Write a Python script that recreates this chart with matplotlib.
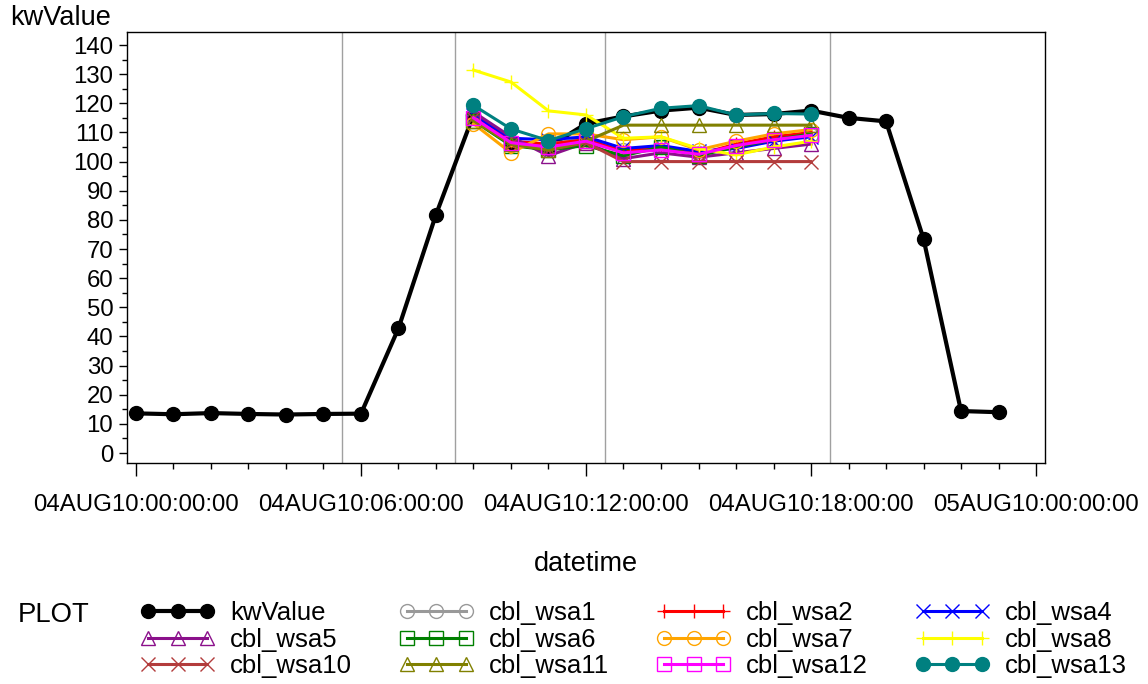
import matplotlib
matplotlib.use("Agg")
from matplotlib import pyplot as plt
from matplotlib.ticker import MultipleLocator, FixedLocator

plt.rcParams["font.family"] = ["Liberation Sans", "DejaVu Sans"]

# hourly load for 04AUG10, hours 0..23
hours = list(range(24))
kwValue = [13.6, 13.3, 13.7, 13.4, 13.2, 13.4, 13.5, 42.8, 81.8, 116.0,
           106.0, 105.0, 113.0, 115.5, 117.5, 118.5, 116.0, 116.3, 117.5,
           115.0, 113.8, 73.5, 14.4, 14.0]

# baseline estimates, event hours 9..18
cbl_hours = list(range(9, 19))
cbl_wsa1 = [115.0, 106.0, 106.0, 108.0, 104.0, 105.0, 103.0, 105.0, 107.0, 109.0]
cbl_wsa2 = [115.0, 107.0, 106.0, 107.5, 103.5, 105.0, 102.5, 106.0, 108.5, 110.0]
cbl_wsa4 = [116.0, 108.0, 107.5, 108.5, 104.5, 105.5, 103.5, 104.5, 107.0, 108.5]
cbl_wsa5 = [117.0, 108.5, 102.0, 106.5, 101.0, 103.0, 101.5, 103.0, 104.5, 106.0]
cbl_wsa6 = [114.0, 105.5, 104.0, 105.5, 102.0, 105.0, 102.0, 105.0, 107.5, 109.5]
cbl_wsa7 = [113.0, 103.0, 109.5, 109.5, 107.5, 108.5, 104.0, 107.0, 109.5, 111.0]
cbl_wsa8 = [131.4, 127.3, 117.4, 116.0, 108.0, 108.5, 104.5, 102.3, 105.0, 107.0]
cbl_wsa10 = [115.0, 106.0, 104.0, 106.5, 100.0, 100.0, 100.0, 100.0, 100.0, 100.0]
cbl_wsa11 = [114.0, 106.0, 104.0, 107.0, 112.5, 112.5, 112.5, 112.5, 112.5, 112.5]
cbl_wsa12 = [115.0, 106.5, 105.0, 107.0, 103.0, 104.0, 102.5, 105.5, 107.5, 109.0]
cbl_wsa13 = [119.3, 111.2, 107.2, 111.3, 115.4, 118.3, 119.2, 116.0, 116.5, 116.3]

ref_hours = [5.5, 8.5, 12.5, 18.5]
major_hours = [0, 6, 12, 18, 24]
xtick_labels = ["04AUG10:00:00:00", "04AUG10:06:00:00", "04AUG10:12:00:00",
                "04AUG10:18:00:00", "05AUG10:00:00:00"]

fig = plt.figure(figsize=(11.48, 6.84), dpi=100)
ax = fig.add_axes([0.1106, 0.3231, 0.7997, 0.6301])

for h in ref_hours:
    ax.axvline(h, color="#a0a0a0", lw=1.0, zorder=1)

handles = {}
handles["kwValue"], = ax.plot(hours, kwValue, color="black", lw=3, marker="o",
                              ms=10, mfc="black", mec="black", label="kwValue", zorder=3)

# (label, data, colour, marker, filled)
series = [
    ("cbl_wsa1", cbl_wsa1, "#999999", "o", False),
    ("cbl_wsa2", cbl_wsa2, "#ff0000", "+", False),
    ("cbl_wsa4", cbl_wsa4, "#0000ff", "x", False),
    ("cbl_wsa5", cbl_wsa5, "#8b108b", "^", False),
    ("cbl_wsa6", cbl_wsa6, "#008000", "s", False),
    ("cbl_wsa7", cbl_wsa7, "#ffa500", "o", False),
    ("cbl_wsa8", cbl_wsa8, "#ffff00", "+", False),
    ("cbl_wsa10", cbl_wsa10, "#b33c3c", "x", False),
    ("cbl_wsa11", cbl_wsa11, "#808000", "^", False),
    ("cbl_wsa12", cbl_wsa12, "#ff00ff", "s", False),
    ("cbl_wsa13", cbl_wsa13, "#008080", "o", True),
]
for i, (name, vals, col, mk, filled) in enumerate(series):
    if filled:
        ln, = ax.plot(cbl_hours, vals, color=col, lw=2.2, marker=mk, ms=10,
                      mfc=col, mec=col, label=name, zorder=4 + i)
    else:
        ln, = ax.plot(cbl_hours, vals, color=col, lw=2.2, marker=mk, ms=10,
                      mfc="none", mec=col, mew=1.0, label=name, zorder=4 + i)
    handles[name] = ln

ax.set_xlim(-0.24, 24.24)
ax.set_ylim(-3.43, 144.46)

ax.xaxis.set_major_locator(FixedLocator(major_hours))
ax.xaxis.set_minor_locator(MultipleLocator(1))
ax.set_xticklabels(xtick_labels)
ax.yaxis.set_major_locator(MultipleLocator(10))
ax.yaxis.set_minor_locator(MultipleLocator(5))

ax.tick_params(axis="x", which="major", direction="out", length=9.4, width=1,
               labelsize=17.3, pad=13)
ax.tick_params(axis="x", which="minor", direction="out", length=4.3, width=1)
ax.tick_params(axis="y", which="major", direction="out", length=5.8, width=1,
               labelsize=17.3, pad=4)
ax.tick_params(axis="y", which="minor", direction="out", length=3.6, width=1)
for sp in ax.spines.values():
    sp.set_linewidth(1.0)

ax.set_xlabel("datetime", fontsize=19.5, labelpad=25)
fig.text(10 / 1148, 1 - 18 / 684, "kwValue", fontsize=19.5, va="center", ha="left")

fig.text(18 / 1148, 1 - 615 / 684, "PLOT", fontsize=19.8, va="center", ha="left")

# legend reads row-wise, matplotlib fills column-wise
order = ["kwValue", "cbl_wsa5", "cbl_wsa10",
         "cbl_wsa1", "cbl_wsa6", "cbl_wsa11",
         "cbl_wsa2", "cbl_wsa7", "cbl_wsa12",
         "cbl_wsa4", "cbl_wsa8", "cbl_wsa13"]
fig.legend([handles[k] for k in order], order, loc="upper left",
           bbox_to_anchor=(140 / 1148, 1 - 601 / 684), ncol=4, frameon=False,
           fontsize=18.5, numpoints=3, handlelength=2.92, handletextpad=0.58,
           columnspacing=1.83, labelspacing=0.1, borderpad=0, borderaxespad=0)

fig.savefig("out.png", dpi=100)
